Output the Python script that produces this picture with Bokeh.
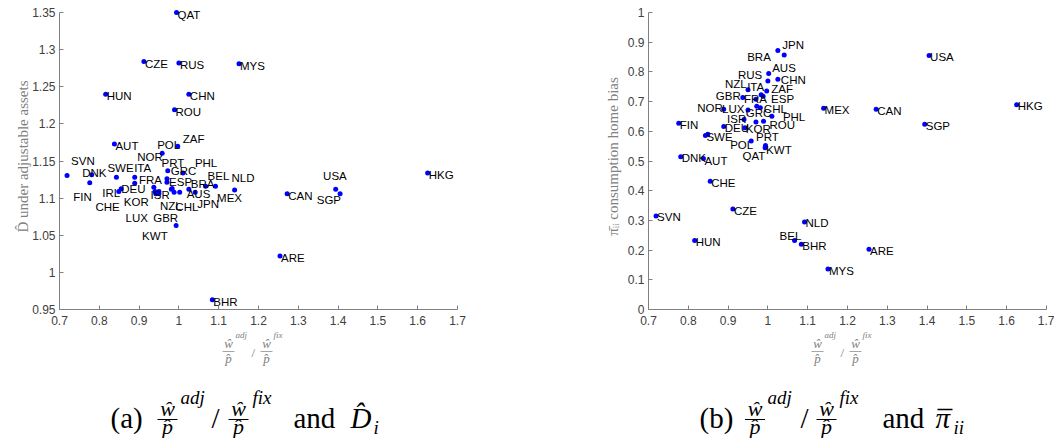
from bokeh.plotting import figure
from bokeh.models import ColumnDataSource, Range1d, FixedTicker, CustomJSTickFormatter
from bokeh.layouts import column, row
from bokeh.embed import file_html
from bokeh.resources import INLINE
from bokeh.core.properties import value

# ---------------- data ----------------
countries = ["QAT", "CZE", "RUS", "MYS", "HUN", "CHN", "ROU", "ZAF", "AUT", "POL", "NOR", "DEU", "PHL",
             "SVN", "PRT", "DNK", "SWE", "BEL", "NLD", "FIN", "IRL", "BRA", "AUS", "MEX", "USA", "HKG",
             "CAN", "SGP", "KOR", "ISR", "NZL", "CHL", "JPN", "CHE", "LUX", "GBR", "KWT", "ARE", "BHR",
             "GRC", "FRA", "ITA", "ESP"]
wage_ratio = [0.994, 0.912, 1.000, 1.151, 0.816, 1.025, 0.989, 0.997, 0.838, 0.958, 0.889, 0.889, 1.010,
              0.719, 0.970, 0.781, 0.843, 1.067, 1.092, 0.776, 0.849, 1.025, 1.002, 1.140, 1.405, 1.625,
              1.272, 1.394, 0.942, 0.940, 0.950, 0.981, 1.041, 0.855, 0.950, 0.937, 0.993, 1.254, 1.084,
              0.972, 0.970, 0.983, 0.988]
D_adj = [1.350, 1.284, 1.282, 1.281, 1.240, 1.240, 1.219, 1.170, 1.173, 1.1605, 1.128, 1.120, 1.134,
         1.1305, 1.126, 1.1314, 1.128, 1.116, 1.116, 1.1206, 1.109, 1.112, 1.108, 1.111, 1.106, 1.134,
         1.106, 1.112, 1.106, 1.109, 1.109, 1.112, 1.108, 1.1126, 1.106, 1.1147, 1.063, 1.022, 0.963,
         1.137, 1.1215, 1.113, 1.108]
pi_ii = [0.552, 0.338, 0.769, 0.136, 0.232, 0.775, 0.634, 0.736, 0.508, 0.567, 0.674, 0.616, 0.651,
         0.315, 0.631, 0.514, 0.586, 0.232, 0.295, 0.627, 0.590, 0.872, 0.795, 0.678, 0.855, 0.689,
         0.674, 0.624, 0.612, 0.640, 0.740, 0.679, 0.857, 0.432, 0.672, 0.714, 0.545, 0.203, 0.220,
         0.684, 0.708, 0.723, 0.718]

x_ticks = [0.7, 0.8, 0.9, 1.0, 1.1, 1.2, 1.3, 1.4, 1.5, 1.6, 1.7]
x_tick_labels = ["0.7", "0.8", "0.9", "1", "1.1", "1.2", "1.3", "1.4", "1.5", "1.6", "1.7"]
yA_ticks = [0.95, 1.0, 1.05, 1.1, 1.15, 1.2, 1.25, 1.3, 1.35]
yA_tick_labels = ["0.95", "1", "1.05", "1.1", "1.15", "1.2", "1.25", "1.3", "1.35"]
yB_ticks = [0.0, 0.1, 0.2, 0.3, 0.4, 0.5, 0.6, 0.7, 0.8, 0.9, 1.0]
yB_tick_labels = ["0", "0.1", "0.2", "0.3", "0.4", "0.5", "0.6", "0.7", "0.8", "0.9", "1"]

# ---------------- label placement (screen px offsets, +y = down) ----------------
DEF_A = (1, 2)
offs_A = {"ZAF": (5, -7.5), "POL": (-5, -8.7), "NOR": (2.5, -20), "PHL": (12, -10), "SVN": (4, -14),
          "PRT": (-5.5, -16), "DNK": (-9.5, -2), "SWE": (-9, -9), "ITA": (-38, -20), "GRC": (3, 0),
          "FRA": (-28, -2), "BEL": (2, -10), "NLD": (16, -8), "ESP": (-5, -10), "FIN": (-16.5, 14),
          "IRL": (-16.6, 1.5), "DEU": (-13.5, 5.5), "BRA": (2, -5), "AUS": (7, 2), "MEX": (-17.5, 8),
          "USA": (-17, -18), "SGP": (-19, 10.5), "KOR": (-32, 8.5), "ISR": (-4.5, 4), "NZL": (1, 15),
          "CHL": (4, 18), "JPN": (2, 11.6), "CHE": (-25.7, 18), "LUX": (-33.5, 24), "GBR": (-0.6, 30.6),
          "KWT": (-34, 10)}
DEF_B = (1, 1.5)
offs_B = {"JPN": (-2, -9.5), "BRA": (-30.7, 6), "AUS": (3.5, -5), "RUS": (-30, -6.6), "CHN": (3, 0.5),
          "NZL": (-23, -6), "ITA": (-14, -8), "ZAF": (4.5, -2), "GBR": (-27, -1), "FRA": (-12, 0),
          "ESP": (8, 3), "NOR": (-26.5, -1.5), "LUX": (-26, -1), "CHL": (3.5, 1), "GRC": (-11, 7),
          "PHL": (11, 1), "ISR": (-17, 0), "ROU": (6, 4), "PRT": (0, 15), "POL": (-21, 4),
          "QAT": (-23, 10), "BEL": (-15, -5), "KWT": (1, 2), "AUT": (1, 2)}
hidden_B = {"IRL"}

AX = "#808080"
TICK_TXT = "#404040"
FRAME_H = 297          # px between lowest and highest y tick
TOP_PAD = 9            # extra px above the top tick so labels there are not clipped


def tick_fmt(tv, tl):
    return CustomJSTickFormatter(args=dict(tv=tv, tl=tl), code="""
        let b = 0;
        for (let i = 0; i < tv.length; i++) {
            if (Math.abs(tv[i] - tick) < Math.abs(tv[b] - tick)) b = i;
        }
        return tl[b];""")


def panel(yvals, ylo, yhi, yticks, ylabels, ylab, offs, default, hidden, bl, br, lab_standoff):
    yext = yhi + (yhi - ylo) * TOP_PAD / FRAME_H
    p = figure(width=527, height=330, x_range=Range1d(0.7, 1.7), y_range=Range1d(ylo, yext),
               output_backend="svg", toolbar_location=None,
               min_border_left=bl, min_border_right=br, min_border_top=12 - TOP_PAD,
               min_border_bottom=21)
    p.grid.visible = False
    p.outline_line_color = None
    p.background_fill_color = "white"
    p.border_fill_color = "white"
    for ax in (p.xaxis[0], p.yaxis[0]):
        ax.axis_line_color = AX
        ax.major_tick_line_color = AX
        ax.major_tick_in = 4
        ax.major_tick_out = 0
        ax.minor_tick_line_color = None
        ax.major_label_text_font = "Liberation Sans"
        ax.major_label_text_font_size = "12px"
        ax.major_label_text_color = TICK_TXT
        ax.major_label_standoff = 4
    p.xaxis.major_label_standoff = 6
    p.yaxis.bounds = (ylo, yhi)
    p.xaxis.ticker = FixedTicker(ticks=x_ticks)
    p.xaxis.formatter = tick_fmt(x_ticks, x_tick_labels)
    p.yaxis.ticker = FixedTicker(ticks=yticks)
    p.yaxis.formatter = tick_fmt(yticks, ylabels)
    p.yaxis.axis_label = ylab
    p.yaxis.axis_label_text_font = "Liberation Serif"
    p.yaxis.axis_label_text_font_style = "normal"
    p.yaxis.axis_label_text_font_size = "15px"
    p.yaxis.axis_label_text_color = AX
    p.yaxis.axis_label_standoff = lab_standoff

    src = ColumnDataSource(dict(x=wage_ratio, y=yvals, name=countries))
    p.scatter("x", "y", source=src, size=5, marker="circle", fill_color="#0000ff",
              line_color="#0000ff", line_width=0)

    lx, ly, ln, ldx, ldy = [], [], [], [], []
    for c, xv, yv in zip(countries, wage_ratio, yvals):
        if c in hidden:
            continue
        dx, dy = offs.get(c, default)
        lx.append(xv); ly.append(yv); ln.append(c); ldx.append(dx); ldy.append(dy)
    lsrc = ColumnDataSource(dict(x=lx, y=ly, name=ln, dx=ldx, dy=ldy))
    p.text("x", "y", text="name", x_offset="dx", y_offset="dy", source=lsrc,
           text_font=value("Liberation Sans"), text_font_size="11.5px", text_color="black",
           text_align="left", text_baseline="middle")
    return p


pA = panel(D_adj, 0.95, 1.35, yA_ticks, yA_tick_labels, "D\u0302 under adjustable assets",
           offs_A, DEF_A, set(), 59, 70, -2)
pB = panel(pi_ii, 0.0, 1.0, yB_ticks, yB_tick_labels,
           "\u03c0\u0304\u1d62\u1d62 consumption home bias", offs_B, DEF_B, hidden_B, 121, 8, 4)

# ---------------- caption strip (axis titles + sub-captions) ----------------
cap = figure(width=1054, height=108, x_range=Range1d(0, 1054), y_range=Range1d(438, 330),
             output_backend="svg", toolbar_location=None, min_border=0,
             x_axis_location=None, y_axis_location=None)
cap.grid.visible = False
cap.outline_line_color = None
cap.background_fill_color = "white"
cap.border_fill_color = "white"


def txt(t, x, y, size, style="normal", align="left", color="black"):
    # y is the wanted baseline (page px); rendered baseline sits ~0.34 em lower, so compensate
    cap.text(x=[x], y=[y - 0.34 * size], text=[t], text_font=value("Liberation Serif"),
             text_font_size=f"{size}px", text_font_style=style, text_align=align,
             text_baseline="alphabetic", text_color=color)


def bar(x0, x1, y, color="black", lw=1.2):
    cap.segment(x0=[x0], y0=[y], x1=[x1], y1=[y], line_color=color, line_width=lw)


def frac(cx, ytop, ybar, ybot, half, size, color, lw):
    txt("\u0175", cx, ytop, size, "italic", "center", color)
    bar(cx - half, cx + half, ybar, color, lw)
    txt("p\u0302", cx, ybot, size, "italic", "center", color)


for shift in (0, 589):
    frac(228 + shift, 347, 351, 362, 6, 13, AX, 0.7)
    txt("adj", 235 + shift, 338, 9, "italic", "left", AX)
    txt("/", 251 + shift, 356, 13, "normal", "left", AX)
    frac(266 + shift, 347, 351, 362, 6, 13, AX, 0.7)
    txt("fix", 273 + shift, 338, 9, "italic", "left", AX)

# (a)
txt("(a)", 110, 427, 29)
frac(167, 415, 419, 433, 10, 22, "black", 1.2)
txt("adj", 180, 403, 19, "italic")
txt("/", 211, 427, 29)
frac(238, 415, 419, 433, 10, 22, "black", 1.2)
txt("fix", 252, 403, 19, "italic")
txt("and", 293, 427, 29)
txt("D\u0302", 350, 427, 29, "italic")
txt("i", 373, 433, 19, "italic")

# (b)
txt("(b)", 699, 427, 29)
frac(754.5, 415, 419, 433, 10, 22, "black", 1.2)
txt("adj", 767, 403, 19, "italic")
txt("/", 800, 427, 29)
frac(826, 415, 419, 433, 10, 22, "black", 1.2)
txt("fix", 839, 403, 19, "italic")
txt("and", 882, 427, 29)
txt("\u03c0", 935, 427, 29, "italic")
bar(937, 952, 409, "black", 1.4)
txt("ii", 953, 433, 19, "italic")

layout = column(row(pA, pB), cap)
open("out.html", "w").write(file_html(layout, INLINE))
